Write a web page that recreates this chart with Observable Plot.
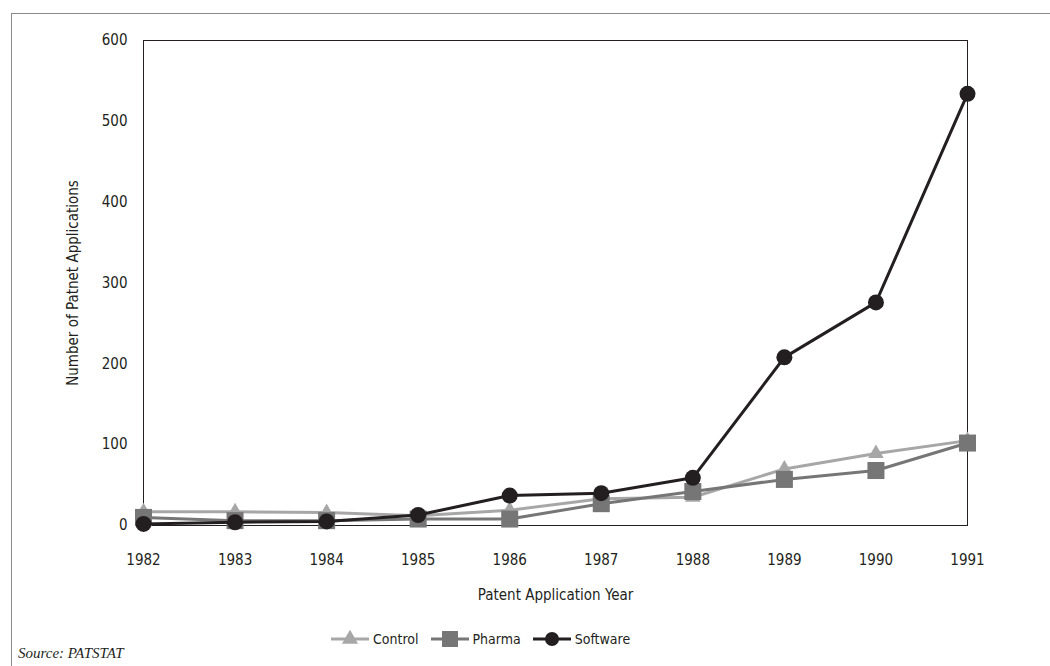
<!DOCTYPE html>
<html>
<head>
<meta charset="utf-8">
<script src="https://cdn.jsdelivr.net/npm/d3@7"></script>
<script src="https://cdn.jsdelivr.net/npm/@observablehq/plot@0.6"></script>
<style>
  html, body { margin: 0; padding: 0; background: #fff; }
  #wrap { position: relative; width: 1050px; height: 666px; overflow: hidden; font-family: "Liberation Sans Narrow", "DejaVu Sans Condensed", "Roboto Condensed", sans-serif; }
  #frame { position: absolute; left: 11px; top: 13px; width: 1100px; height: 700px; border-left: 1.5px solid #8a8a8a; border-top: 1.5px solid #8a8a8a; }
  #chart { position: absolute; left: 0; top: 0; }
  #legend { position: absolute; left: 331px; top: 629px; display: flex; align-items: center; font-size: 14px; color: #231f20; }
  .item { display: flex; align-items: center; margin-right: 12px; }
  .item svg { margin-right: 4px; }
  #source { position: absolute; left: 18px; top: 645px; font-family: "Liberation Serif", "DejaVu Serif", serif; font-style: italic; font-size: 15px; color: #231f20; }
</style>
</head>
<body>
<div id="wrap">
  <div id="frame"></div>
  <div id="chart"></div>
  <div id="legend"></div>
  <div id="source">Source: PATSTAT</div>
</div>
<script>
const years = [1982, 1983, 1984, 1985, 1986, 1987, 1988, 1989, 1990, 1991];
const control = [17, 17, 16, 12, 19, 33, 35, 70, 89, 105];
const pharma = [10, 6, 6, 8, 8, 27, 42, 57, 68, 102];
const software = [2, 4, 5, 13, 37, 40, 59, 208, 276, 534];
const yTicks = [0, 100, 200, 300, 400, 500, 600];

const seriesNames = ["Control", "Pharma", "Software"];
const seriesValues = [control, pharma, software];
const colors = {Control: "#a7a7a7", Pharma: "#767676", Software: "#231f20"};
const symbols = {Control: "triangle", Pharma: "square", Software: "circle"};
const radii = {Control: 5.8, Pharma: 9.6, Software: 8};

const rows = [];
seriesNames.forEach((name, i) => {
  years.forEach((yr, j) => rows.push({series: name, year: yr, value: seriesValues[i][j]}));
});

const font = '"Liberation Sans Narrow", "DejaVu Sans Condensed", "Roboto Condensed", sans-serif';

const marks = [
  Plot.frame({stroke: "#231f20", strokeWidth: 1}),
  Plot.axisY({ticks: yTicks, tickSize: 0, tickPadding: 16, fontSize: 15, label: "Number of Patnet Applications", labelAnchor: "center", labelOffset: 76, labelArrow: false}),
  Plot.axisX({ticks: years, tickFormat: d3.format("d"), tickSize: 0, tickPadding: 29, fontSize: 15, label: "Patent Application Year", labelAnchor: "center", labelOffset: 74, labelArrow: false})
];
seriesNames.forEach(name => {
  const data = rows.filter(r => r.series === name);
  marks.push(Plot.line(data, {x: "year", y: "value", stroke: colors[name], strokeWidth: 3}));
  marks.push(Plot.dot(data, {x: "year", y: "value", symbol: () => symbols[name], fill: colors[name], r: radii[name], stroke: "none"}));
});

const chart = Plot.plot({
  width: 1050,
  height: 610,
  marginLeft: 143,
  marginRight: 83,
  marginTop: 40,
  marginBottom: 85,
  style: {fontFamily: font, fontSize: "15px", color: "#231f20", background: "transparent"},
  x: {domain: [1982, 1991]},
  y: {domain: [0, 600]},
  symbol: {type: "identity"},
  marks
});
document.getElementById("chart").appendChild(chart);

// legend
const legend = d3.select("#legend");
seriesNames.forEach(name => {
  const item = legend.append("div").attr("class", "item");
  const svg = item.append("svg").attr("width", 38).attr("height", 20);
  svg.append("line").attr("x1", 0).attr("x2", 38).attr("y1", 10).attr("y2", 10)
    .attr("stroke", colors[name]).attr("stroke-width", 3);
  const sym = {triangle: d3.symbolTriangle, square: d3.symbolSquare, circle: d3.symbolCircle}[symbols[name]];
  const r = name === "Pharma" ? 9 : name === "Software" ? 7 : 6;
  svg.append("path").attr("transform", "translate(19,10)")
    .attr("d", d3.symbol(sym, Math.PI * r * r)())
    .attr("fill", colors[name]);
  item.append("span").text(name);
});
</script>
</body>
</html>
